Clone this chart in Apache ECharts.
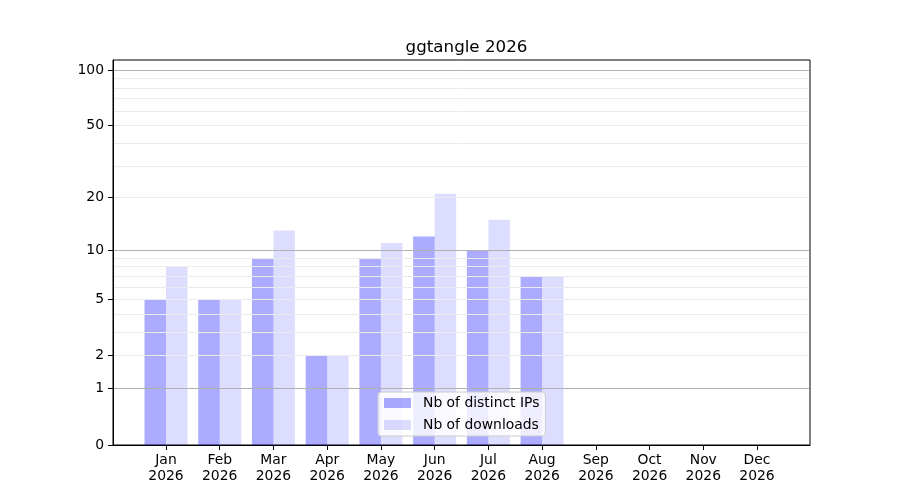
<!DOCTYPE html>
<html>
<head>
<meta charset="utf-8">
<script src="https://cdn.jsdelivr.net/npm/echarts@6/dist/echarts.min.js"></script>
<style>html,body{margin:0;padding:0;background:#fff}#c{width:900px;height:500px}</style>
</head>
<body>
<div id="c"></div>
<script>
// ---- data ----
const months = ['Jan','Feb','Mar','Apr','May','Jun','Jul','Aug','Sep','Oct','Nov','Dec'];
const year = '2026';
const distinctIPs = [5, 5, 9, 2, 9, 12, 10, 7];
const downloads   = [8, 5, 13, 2, 11, 21, 15, 7];
const yTickLabels = [0, 1, 2, 5, 10, 20, 50, 100];
const majorGrid = [1, 10, 100];
const minorGrid = [2, 3, 4, 5, 6, 7, 8, 9, 20, 30, 40, 50, 60, 70, 80, 90];
const yMaxRaw = 113.2;
const xMin = -0.986, xMax = 11.986;

// log(1+x) scale
const tf = v => Math.log10(1 + v);
const FONT = 'DejaVu Sans';

const chart = echarts.init(document.getElementById('c'), null, {renderer: 'canvas'});
const mkLine = (v, color) => [
  {coord: [xMin + 0.02, tf(v)], lineStyle: {color: color, width: 1, type: 'solid'}},
  {coord: [xMax - 0.02, tf(v)]}
];
const gridLines = minorGrid.map(v => mkLine(v, '#ebebeb'))
  .concat(majorGrid.map(v => mkLine(v, '#b0b0b0')));

chart.setOption({
  animation: false,
  title: {
    text: 'ggtangle 2026', left: 461.5, top: 34, textAlign: 'center',
    textStyle: {fontFamily: FONT, fontSize: 16.7, fontWeight: 'normal', color: '#000'}
  },
  grid: {left: 113, right: 90, top: 60, bottom: 55, show: true, borderColor: '#000', borderWidth: 1, backgroundColor: 'transparent'},
  legend: {
    orient: 'vertical', left: 378, top: 392,
    data: ['Nb of distinct IPs', 'Nb of downloads'],
    icon: 'rect', itemWidth: 27, itemHeight: 10, itemGap: 8,
    padding: [4, 6, 4, 6],
    backgroundColor: 'rgba(255,255,255,0.8)', borderColor: '#cccccc', borderWidth: 1, borderRadius: 3,
    textStyle: {fontFamily: FONT, fontSize: 13.9, color: '#000', padding: [0, 0, 0, 7]}
  },
  xAxis: {
    type: 'value', min: xMin, max: xMax,
    splitLine: {show: false},
    axisLine: {show: true, onZero: false, lineStyle: {color: '#000', width: 1}},
    axisTick: {show: true, length: 5, customValues: months.map((m, i) => i), lineStyle: {color: '#000'}},
    axisLabel: {
      customValues: months.map((m, i) => i), margin: 7,
      formatter: v => months[Math.round(v)] + '\n' + year,
      fontFamily: FONT, fontSize: 13.9, color: '#000', lineHeight: 16
    }
  },
  yAxis: {
    type: 'value', min: 0, max: tf(yMaxRaw),
    splitLine: {show: false},
    axisLine: {show: true, onZero: false, lineStyle: {color: '#000', width: 1}},
    axisTick: {show: true, length: 5, customValues: yTickLabels.map(tf), lineStyle: {color: '#000'}},
    axisLabel: {
      customValues: yTickLabels.map(tf), margin: 9,
      formatter: v => {
        let best = yTickLabels[0];
        yTickLabels.forEach(t => { if (Math.abs(tf(t) - v) < Math.abs(tf(best) - v)) best = t; });
        return String(best);
      },
      fontFamily: FONT, fontSize: 13.9, color: '#000'
    }
  },
  series: [
    {
      type: 'line', data: [], silent: true, z: 1,
      markLine: {silent: true, symbol: 'none', label: {show: false}, animation: false, data: gridLines}
    },
    {
      name: 'Nb of distinct IPs', type: 'bar', z: 2,
      data: distinctIPs.map((v, i) => [i, tf(v)]),
      barWidth: 21.5, barGap: '0%',
      itemStyle: {color: 'rgba(0,0,255,0.33)'}
    },
    {
      name: 'Nb of downloads', type: 'bar', z: 2,
      data: downloads.map((v, i) => [i, tf(v)]),
      barWidth: 21.5, barGap: '0%',
      itemStyle: {color: 'rgba(0,0,255,0.135)'}
    }
  ]
});
</script>
</body>
</html>
